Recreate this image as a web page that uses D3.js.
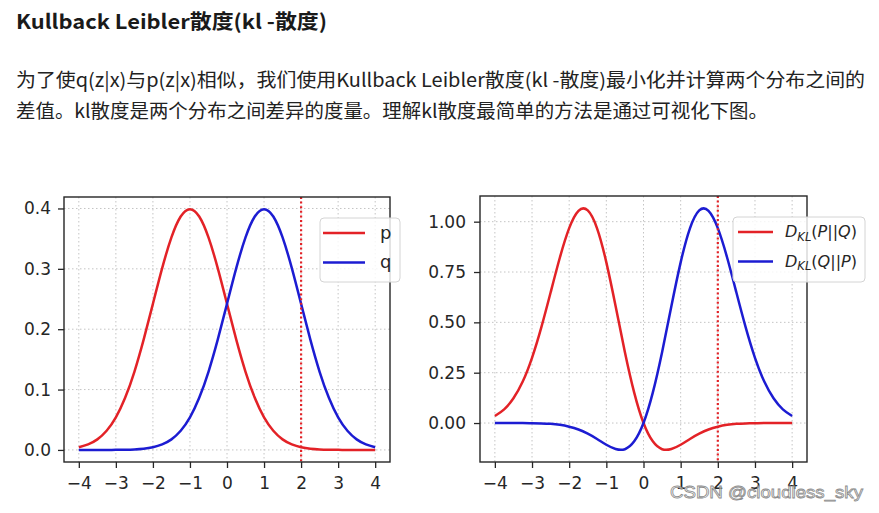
<!DOCTYPE html>
<html><head><meta charset="utf-8">
<script src="https://cdn.jsdelivr.net/npm/d3@7"></script>
<style>html,body{margin:0;padding:0;background:#fff;} svg{display:block}</style>
</head><body>
<svg id="c" width="879" height="513"></svg>
<script>
// ---- data ----
const xValues = [-4,-3.75,-3.5,-3.25,-3,-2.75,-2.5,-2.25,-2,-1.75,-1.5,-1.25,-1,-0.75,-0.5,-0.25,0,0.25,0.5,0.75,1,1.25,1.5,1.75,2,2.25,2.5,2.75,3,3.25,3.5,3.75,4];
const pValues = [0.0044,0.0091,0.0175,0.0317,0.0540,0.0863,0.1295,0.1827,0.2420,0.3011,0.3521,0.3867,0.3989,0.3867,0.3521,0.3011,0.2420,0.1827,0.1295,0.0863,0.0540,0.0317,0.0175,0.0091,0.0044,0.0020,0.0009,0.0004,0.0001,0.0000,0.0000,0.0000,0.0000];
const qValues = [0.0000,0.0000,0.0000,0.0000,0.0001,0.0004,0.0009,0.0020,0.0044,0.0091,0.0175,0.0317,0.0540,0.0863,0.1295,0.1827,0.2420,0.3011,0.3521,0.3867,0.3989,0.3867,0.3521,0.3011,0.2420,0.1827,0.1295,0.0863,0.0540,0.0317,0.0175,0.0091,0.0044];
const klPQ = [0.035,0.068,0.123,0.206,0.324,0.475,0.648,0.822,0.968,1.054,1.056,0.967,0.798,0.580,0.352,0.151,0.000,-0.091,-0.130,-0.129,-0.108,-0.079,-0.053,-0.032,-0.018,-0.009,-0.004,-0.002,-0.001,0.000,0.000,0.000,0.000];
const klQP = [0.000,0.000,0.000,0.000,-0.001,-0.002,-0.004,-0.009,-0.018,-0.032,-0.053,-0.079,-0.108,-0.129,-0.130,-0.091,0.000,0.151,0.352,0.580,0.798,0.967,1.056,1.054,0.968,0.822,0.648,0.475,0.324,0.206,0.123,0.068,0.035];
const xTicks = [-4,-3,-2,-1,0,1,2,3,4];
const yTicksLeft = [0.0,0.1,0.2,0.3,0.4];
const yTicksRight = [0.00,0.25,0.50,0.75,1.00];
const markerX = 2;
const headingText = "Kullback Leibler散度(kl -散度)";
const paraLines = ["为了使q(z|x)与p(z|x)相似，我们使用Kullback Leibler散度(kl -散度)最小化并计算两个分布之间的",
                   "差值。kl散度是两个分布之间差异的度量。理解kl散度最简单的方法是通过可视化下图。"];
const watermark = "CSDN @cloudless_sky";

const RED = "#e32227", BLUE = "#1c1cd2";
const svg = d3.select("#c");
const cjk = "'Noto Sans CJK SC','Noto Sans',sans-serif";

// ---- page text ----
svg.append("text").attr("x",16).attr("y",29).attr("font-family",cjk)
  .attr("font-weight","bold").attr("font-size",20).attr("fill","#1a1a1a").text(headingText)
  .attr("textLength",311).attr("lengthAdjust","spacingAndGlyphs");
const paraW = [849, 752];
paraLines.forEach((t,i)=>{
  svg.append("text").attr("x",16).attr("y",87+i*30.5).attr("font-family",cjk)
    .attr("font-size",19).attr("fill","#222").text(t)
    .attr("textLength",paraW[i]).attr("lengthAdjust","spacingAndGlyphs");
});

// ---- chart helper ----
const fmtMinus = d => String(d).replace("-","\u2212");
function panel(o){
  const x = d3.scaleLinear().domain([-4.4,4.4]).range([o.left,o.right]);
  const y = d3.scaleLinear().domain(o.yDomain).range([o.bottom,o.top]);
  const g = svg.append("g");
  // grid
  g.selectAll(".gx").data(xTicks).join("line")
    .attr("x1",d=>x(d)).attr("x2",d=>x(d)).attr("y1",o.top).attr("y2",o.bottom)
    .attr("stroke","#c4c4c4").attr("stroke-width",1).attr("stroke-dasharray","1.5,2.5");
  g.selectAll(".gy").data(o.yTicks).join("line")
    .attr("y1",d=>y(d)).attr("y2",d=>y(d)).attr("x1",o.left).attr("x2",o.right)
    .attr("stroke","#c4c4c4").attr("stroke-width",1).attr("stroke-dasharray","1.5,2.5");
  // curves
  const line = (vals)=> d3.line().x((d,i)=>x(xValues[i])).y(d=>y(d)).curve(d3.curveNatural)(vals);
  o.series.forEach(s=>{
    g.append("path").attr("d",line(s.values)).attr("fill","none")
      .attr("stroke",s.color).attr("stroke-width",2.5).attr("stroke-linejoin","round");
  });
  // vertical dotted marker
  g.append("line").attr("x1",x(markerX)).attr("x2",x(markerX)).attr("y1",o.top).attr("y2",o.bottom)
    .attr("stroke",RED).attr("stroke-width",2.2).attr("stroke-dasharray","2,2.6");
  // axes
  const ax = g.append("g").attr("transform",`translate(0,${o.bottom})`)
    .call(d3.axisBottom(x).tickValues(xTicks).tickSize(6).tickPadding(6).tickFormat(fmtMinus));
  const ay = g.append("g").attr("transform",`translate(${o.left},0)`)
    .call(d3.axisLeft(y).tickValues(o.yTicks).tickSize(6).tickPadding(o.pad).tickFormat(o.fmt));
  [ax,ay].forEach(a=>{
    a.select(".domain").remove();
    a.selectAll("line").attr("stroke","#262626").attr("stroke-width",1.3);
    a.selectAll("text").attr("font-family","'DejaVu Sans',sans-serif").attr("font-size",17).attr("fill","#262626");
  });
  ax.selectAll("text").attr("dy","0.9em");
  // frame
  g.append("rect").attr("x",o.left).attr("y",o.top).attr("width",o.right-o.left).attr("height",o.bottom-o.top)
    .attr("fill","none").attr("stroke","#262626").attr("stroke-width",1.4);
  // legend
  const L = o.legend;
  g.append("rect").attr("x",L.x).attr("y",L.y).attr("width",L.w).attr("height",L.h).attr("rx",4)
    .attr("fill","#fff").attr("fill-opacity",0.82).attr("stroke","#d4d4d4").attr("stroke-width",1);
  o.series.forEach((s,i)=>{
    const yy = L.y + 15 + i*29.5;
    g.append("line").attr("x1",L.x+L.lx0).attr("x2",L.x+L.lx1).attr("y1",yy).attr("y2",yy)
      .attr("stroke",s.color).attr("stroke-width",2.5);
    const t = g.append("text").attr("x",L.x+L.tx).attr("y",yy).attr("dy","0.32em")
      .attr("font-family","'DejaVu Sans',sans-serif").attr("font-size",18).attr("fill","#262626");
    s.label(t);
  });
}

const mathLabel = (a,b) => t => {
  t.attr("font-size",16).attr("textLength",72).attr("lengthAdjust","spacingAndGlyphs");
  t.append("tspan").attr("font-style","italic").text("D");
  t.append("tspan").attr("font-style","italic").attr("font-size",11.5).attr("dy",3.5).text("KL");
  t.append("tspan").attr("dy",-3.5).text("(");
  t.append("tspan").attr("font-style","italic").text(a);
  t.append("tspan").text("||");
  t.append("tspan").attr("font-style","italic").text(b);
  t.append("tspan").text(")");
};

panel({left:64,right:390,top:197,bottom:462,yDomain:[-0.02,0.419],yTicks:yTicksLeft,pad:7,
  fmt:d3.format(".1f"),
  series:[{values:pValues,color:RED,label:t=>t.text("p")},{values:qValues,color:BLUE,label:t=>t.text("q")}],
  legend:{x:320,y:218,w:80,h:64,lx0:3,lx1:45,tx:60}});
panel({left:480,right:807,top:196,bottom:462,yDomain:[-0.1935,1.1275],yTicks:yTicksRight,pad:8,
  fmt:d3.format(".2f"),
  series:[{values:klPQ,color:RED,label:mathLabel("P","Q")},{values:klQP,color:BLUE,label:mathLabel("Q","P")}],
  legend:{x:733,y:217,w:132,h:65,lx0:5,lx1:40,tx:52}});

// watermark
svg.append("text").attr("x",670).attr("y",498).attr("font-family","'Liberation Sans',Arial,sans-serif")
  .attr("font-size",17).attr("fill","#ffffff").attr("fill-opacity",0.55).attr("stroke","#8c8c8c").attr("stroke-width",0.8)
  .attr("textLength",193).attr("lengthAdjust","spacingAndGlyphs").text(watermark);
</script>
</body></html>
